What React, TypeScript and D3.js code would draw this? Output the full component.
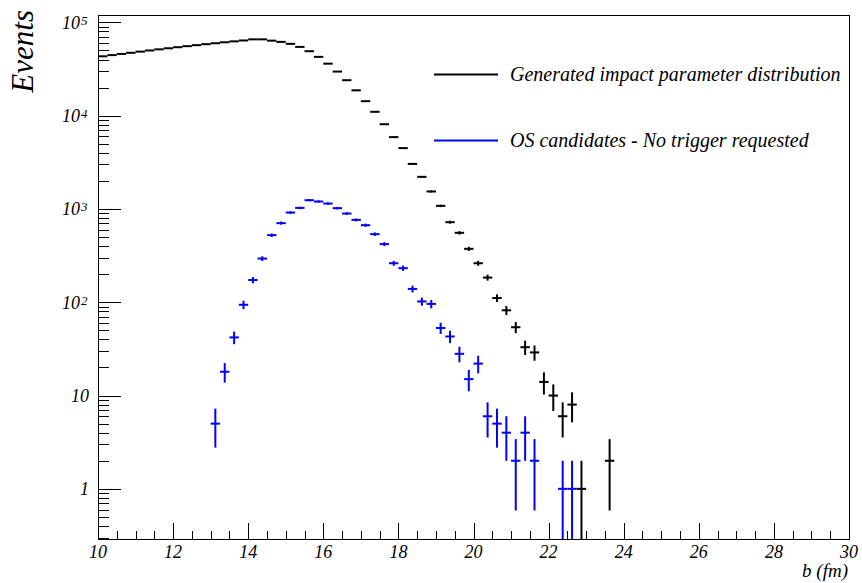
import React from 'react';
import * as d3 from 'd3';

const W = 862;
const H = 583;
const BIN_WIDTH = 0.25;

// Generated impact parameter distribution (bin centres in fm, counts)
const genCenters = [
  10.125, 10.375, 10.625, 10.875, 11.125, 11.375, 11.625, 11.875, 12.125, 12.375,
  12.625, 12.875, 13.125, 13.375, 13.625, 13.875, 14.125, 14.375, 14.625, 14.875,
  15.125, 15.375, 15.625, 15.875, 16.125, 16.375, 16.625, 16.875, 17.125, 17.375,
  17.625, 17.875, 18.125, 18.375, 18.625, 18.875, 19.125, 19.375, 19.625, 19.875,
  20.125, 20.375, 20.625, 20.875, 21.125, 21.375, 21.625, 21.875, 22.125, 22.375,
  22.625, 22.875, 23.625,
];
const genCounts = [
  43300, 44600, 45900, 47200, 48600, 50000, 51400, 52800, 54200, 55600,
  57000, 58400, 59800, 61200, 62600, 64000, 65800, 65800, 63700, 61800,
  58900, 54600, 49100, 42700, 36100, 29700, 24000, 18700, 14300, 11000,
  8100, 5890, 4490, 3040, 2210, 1540, 1080, 722, 555, 374,
  262, 184, 111, 82, 54, 33, 29, 14, 10, 6,
  8, 1, 2,
];

// OS candidates - No trigger requested
const osCenters = [
  13.125, 13.375, 13.625, 13.875, 14.125, 14.375, 14.625, 14.875, 15.125, 15.375,
  15.625, 15.875, 16.125, 16.375, 16.625, 16.875, 17.125, 17.375, 17.625, 17.875,
  18.125, 18.375, 18.625, 18.875, 19.125, 19.375, 19.625, 19.875, 20.125, 20.375,
  20.625, 20.875, 21.125, 21.375, 21.625, 22.375, 22.625,
];
const osCounts = [
  5, 18, 42, 94, 173, 294, 524, 705, 915, 1027,
  1242, 1202, 1143, 1020, 893, 764, 670, 537, 420, 262,
  232, 139, 102, 96, 53, 43, 28, 15, 22, 6,
  5, 4, 2, 4, 2, 1, 1,
];

const xTickValues = [10, 12, 14, 16, 18, 20, 22, 24, 26, 28, 30];
const yTickValues = [1, 10, 100, 1000, 10000, 100000];
const yTickBases = ['1', '10', '10', '10', '10', '10'];
const yTickExps = ['', '', '2', '3', '4', '5'];

const legendNames = ['Generated impact parameter distribution', 'OS candidates - No trigger requested'];
const legendColors = ['#000000', '#0000ff'];

const FONT = '"Liberation Serif", "Times New Roman", serif';

const L = 98, R = 849, T = 15, B = 539;

export default function App() {
  const x = d3.scaleLinear().domain([10, 30]).range([L, R]);
  const y = d3.scaleLog().domain([0.29, 1.2e5]).range([B, T]);

  const xMinor = d3.range(10, 30.001, 0.5).filter((v) => Math.abs(v / 2 - Math.round(v / 2)) > 1e-6);
  const yMinor: number[] = [];
  for (let e = -1; e <= 5; e++) {
    for (let m = 2; m <= 9; m++) {
      const v = m * Math.pow(10, e);
      if (v >= 0.29 && v <= 1.2e5) yMinor.push(v);
    }
  }

  const series = [
    { centers: genCenters, counts: genCounts, color: legendColors[0] },
    { centers: osCenters, counts: osCounts, color: legendColors[1] },
  ];

  return (
    <svg width={W} height={H} style={{ position: 'absolute', left: 0, top: 0, background: '#fff' }}
      fontFamily={FONT}>
      <rect x={0} y={0} width={W} height={H} fill="#fff" />
      <defs>
        <clipPath id="plotclip">
          <rect x={L} y={T} width={R - L} height={B - T} />
        </clipPath>
      </defs>

      {/* frame */}
      <rect x={L + 0.5} y={T + 0.5} width={R - L} height={B - T} fill="none" stroke="#000" strokeWidth={1} />

      {/* x ticks */}
      {xTickValues.map((v) => (
        <line key={'xt' + v} x1={Math.round(x(v)) + 0.5} x2={Math.round(x(v)) + 0.5} y1={B} y2={B - 16} stroke="#000" strokeWidth={1} />
      ))}
      {xMinor.map((v) => (
        <line key={'xm' + v} x1={Math.round(x(v)) + 0.5} x2={Math.round(x(v)) + 0.5} y1={B} y2={B - 8} stroke="#000" strokeWidth={1} />
      ))}
      {xTickValues.map((v) => (
        <text key={'xl' + v} x={x(v)} y={558} textAnchor="middle" fontSize={18} fontStyle="italic" fill="#000">
          {v}
        </text>
      ))}

      {/* y ticks */}
      {yTickValues.map((v) => (
        <line key={'yt' + v} x1={L} x2={L + 23} y1={Math.round(y(v)) + 0.5} y2={Math.round(y(v)) + 0.5} stroke="#000" strokeWidth={1} />
      ))}
      {yMinor.map((v) => (
        <line key={'ym' + v} x1={L} x2={L + 11} y1={Math.round(y(v)) + 0.5} y2={Math.round(y(v)) + 0.5} stroke="#000" strokeWidth={1} />
      ))}
      {yTickValues.map((v, i) => {
        const ty = y(v);
        if (!yTickExps[i]) {
          return (
            <text key={'yl' + v} x={89} y={ty + 6.5} textAnchor="end" fontSize={18} fontStyle="italic" fill="#000">
              {yTickBases[i]}
            </text>
          );
        }
        return (
          <g key={'yl' + v}>
            <text x={80} y={ty + 6.5} textAnchor="end" fontSize={18} fontStyle="italic" fill="#000">
              {yTickBases[i]}
            </text>
            <text x={81} y={ty + 2.5} textAnchor="start" fontSize={13} fontStyle="italic" fill="#000">
              {yTickExps[i]}
            </text>
          </g>
        );
      })}

      {/* axis titles */}
      <text x={848} y={577} textAnchor="end" fontSize={19} fontStyle="italic" fill="#000">b (fm)</text>
      <text transform="translate(33,10) rotate(-90)" textAnchor="end" fontSize={31} fontStyle="italic" fill="#000">Events</text>

      {/* data */}
      <g clipPath="url(#plotclip)">
        {series.map((s, si) =>
          s.centers.map((c, i) => {
            const n = s.counts[i];
            const err = Math.sqrt(n);
            const yv = y(n);
            const yHi = y(n + err);
            const lo = n - err;
            const yLo = lo > 0 ? y(lo) : B + 5;
            return (
              <g key={'d' + si + '_' + i} stroke={s.color} strokeWidth={2}>
                <line x1={x(c - BIN_WIDTH / 2)} x2={x(c + BIN_WIDTH / 2)} y1={yv} y2={yv} />
                <line x1={x(c)} x2={x(c)} y1={yHi} y2={yLo} />
              </g>
            );
          })
        )}
      </g>

      {/* legend */}
      {legendNames.map((name, i) => {
        const ly = [74.5, 140.5][i];
        return (
          <g key={'lg' + i}>
            <line x1={434} x2={498} y1={ly} y2={ly} stroke={legendColors[i]} strokeWidth={2} />
            <text x={510} y={ly + 6.3} fontSize={20} fontStyle="italic" fill="#000">{name}</text>
          </g>
        );
      })}
    </svg>
  );
}
